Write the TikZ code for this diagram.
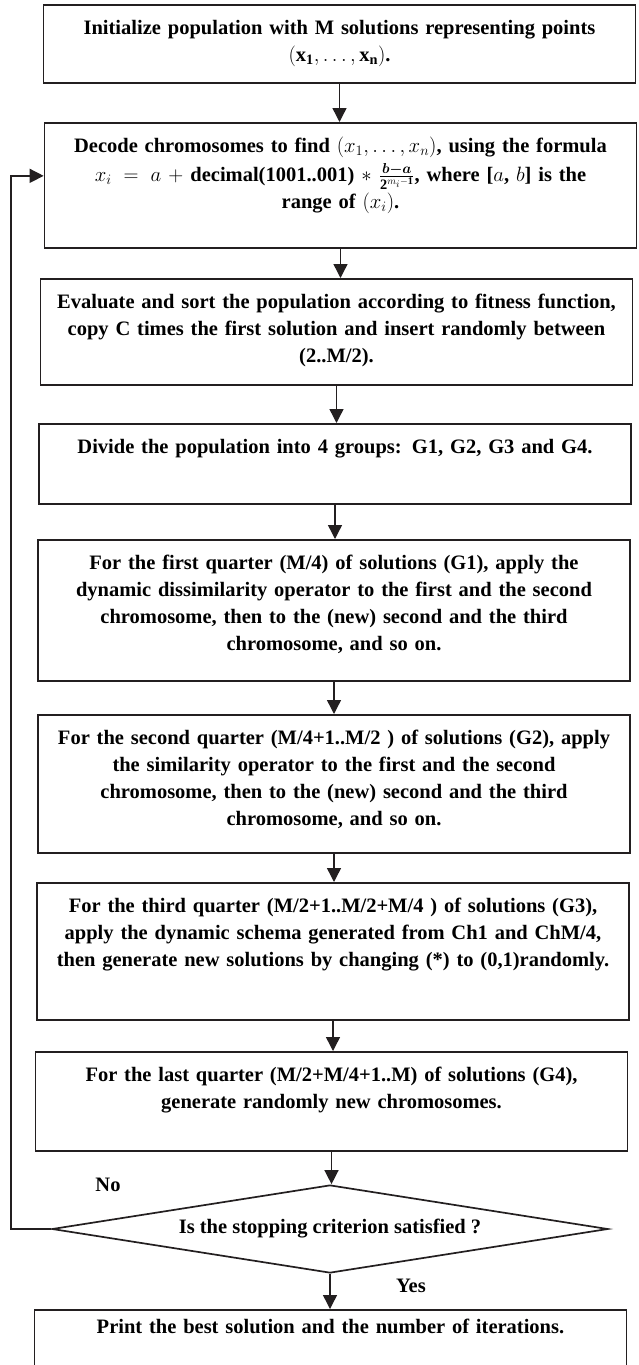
\documentclass[tikz,border=0pt]{standalone}
\usepackage{amsmath}
\usepackage{amssymb}
\usepackage{fontspec}
\setmainfont{Liberation Serif}
\usepackage{tikz}
\usetikzlibrary{arrows.meta, positioning, shapes.geometric, calc}
\usepackage{xcolor}
\definecolor{inkline}{RGB}{35,31,32}

\begin{document}
\begin{tikzpicture}[
  x=1pt, y=-1pt,
  box/.style={rectangle, draw=inkline, line width=1.7pt, anchor=north,
              text width=580pt, inner xsep=6pt, inner ysep=5pt, text height=25pt,
              align=center, font=\fontsize{20.5}{27}\selectfont\bfseries},
  decision/.style={diamond, draw=inkline, line width=1.7pt, aspect=6.3,
              inner sep=0pt, minimum width=556pt, minimum height=88pt,
              font=\fontsize{20.5}{27}\selectfont\bfseries},
  lbl/.style={font=\fontsize{20.5}{27}\selectfont\bfseries},
  arrow/.style={-{Triangle[length=14pt, width=14pt]}, line width=1.4pt, draw=inkline}
]
  \useasboundingbox (0,0) rectangle (638,1365);

  \node[box, text depth=43pt]  (init)    at (339.5,4)
    {Initialize population with M solutions representing points\\
     $(\mathbf{x}_{\mathbf{1}}, \ldots, \mathbf{x}_{\mathbf{n}})$.};
  \node[box, text depth=90pt]  (decode)  at (340.5,122)
    {Decode chromosomes to find $(x_1, \ldots, x_n)$, using the formula\\[2pt]
     $x_i = a + \text{decimal(1001..001)} * \frac{\boldsymbol{b-a}}{\mathbf{2}^{m_i-\mathbf{1}}}$, where [$a$, $b$] is the\\
     range of $(x_i)$.};
  \node[box, text depth=71pt]  (sortpop) at (336.5,278)
    {Evaluate and sort the population according to fitness function,\\
     copy C times the first solution and insert randomly between\\
     (2..M/2).};
  \node[box, text depth=45pt]  (divide)  at (335,423)
    {Divide the population into 4 groups: G1, G2, G3 and G4.};
  \node[box, text depth=106pt] (groupa)  at (334,539)
    {For the first quarter (M/4) of solutions (G1), apply the\\
     dynamic dissimilarity operator to the first and the second\\
     chromosome, then to the (new) second and the third\\
     chromosome, and so on.};
  \node[box, text depth=103pt] (groupb)  at (334,714)
    {For the second quarter (M/4+1..M/2 ) of solutions (G2), apply\\
     the similarity operator to the first and the second\\
     chromosome, then to the (new) second and the third\\
     chromosome, and so on.};
  \node[box, text depth=102pt] (groupc)  at (333,882)
    {For the third quarter (M/2+1..M/2+M/4 ) of solutions (G3),\\
     apply the dynamic schema generated from Ch1 and ChM/4,\\
     then generate new solutions by changing (*) to (0,1)randomly.};
  \node[box, text depth=64pt]  (groupd)  at (331.5,1051)
    {For the last quarter (M/2+M/4+1..M) of solutions (G4),\\
     generate randomly new chromosomes.};
  \node[decision] (stop) at (330,1229) {Is the stopping criterion satisfied ?};
  \node[box, text height=19pt, text depth=47pt] (result) at (330.5,1309)
    {Print the best solution and the number of iterations.};

  \node[lbl] (no)  at (108,1185) {No};
  \node[lbl] (yes) at (411,1286) {Yes};

  \draw[arrow] (init.south)    -- (init.south |- decode.north);
  \draw[arrow] (decode.south)  -- (decode.south |- sortpop.north);
  \draw[arrow] (sortpop.south) -- (sortpop.south |- divide.north);
  \draw[arrow] (divide.south)  -- (divide.south |- groupa.north);
  \draw[arrow] (groupa.south)  -- (groupa.south |- groupb.north);
  \draw[arrow] (groupb.south)  -- (groupb.south |- groupc.north);
  \draw[arrow] (groupc.south)  -- (groupc.south |- groupd.north);
  \draw[arrow] (groupd.south)  -- (groupd.south |- stop.north);
  \draw[arrow] (stop.south)    -- (stop.south |- result.north);

  % back to decoding when not satisfied
  \draw[arrow] (stop.west) -- ++(-40,0) |- ([yshift=9.5pt]decode.west);
\end{tikzpicture}
\end{document}
